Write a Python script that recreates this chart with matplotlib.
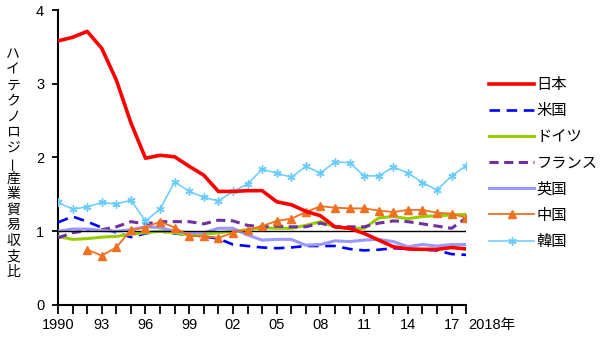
import numpy as np
import matplotlib
matplotlib.use("Agg")
import matplotlib.pyplot as plt

plt.rcParams['font.family'] = ['Liberation Sans', 'Noto Sans CJK JP', 'DejaVu Sans']

years = list(range(1990, 2019))

japan = [3.58, 3.63, 3.71, 3.48, 3.05, 2.47, 1.99, 2.03, 2.01, 1.88,
         1.76, 1.54, 1.54, 1.55, 1.55, 1.40, 1.36, 1.27, 1.21, 1.06,
         1.04, 0.97, 0.88, 0.79, 0.76, 0.755, 0.755, 0.78, 0.76]
usa = [1.12, 1.20, 1.13, 1.05, 0.98, 0.92, 0.97, 1.00, 0.97, 0.95,
       0.93, 0.90, 0.82, 0.80, 0.78, 0.77, 0.78, 0.80, 0.80, 0.80,
       0.76, 0.74, 0.75, 0.77, 0.76, 0.75, 0.74, 0.69, 0.68]
germany = [0.93, 0.89, 0.90, 0.92, 0.93, 0.96, 0.98, 1.00, 0.98, 0.95,
           0.96, 0.98, 1.00, 1.02, 1.05, 1.04, 1.04, 1.08, 1.13, 1.06,
           1.04, 1.04, 1.18, 1.20, 1.17, 1.20, 1.21, 1.22, 1.23]
france = [0.91, 0.98, 1.01, 1.02, 1.06, 1.13, 1.10, 1.13, 1.13, 1.13,
          1.10, 1.15, 1.14, 1.08, 1.06, 1.07, 1.06, 1.06, 1.11, 1.06,
          1.06, 1.06, 1.11, 1.14, 1.13, 1.10, 1.07, 1.04, 1.18]
uk = [1.00, 1.03, 1.03, 1.01, 1.00, 1.02, 1.06, 1.05, 1.00, 0.98,
      0.98, 1.04, 1.04, 0.95, 0.88, 0.89, 0.89, 0.81, 0.82, 0.87,
      0.86, 0.88, 0.89, 0.86, 0.79, 0.82, 0.80, 0.82, 0.82]
china_years = list(range(1992, 2019))
china = [0.75, 0.67, 0.78, 1.02, 1.05, 1.13, 1.05, 0.94,
         0.93, 0.91, 0.98, 1.02, 1.07, 1.14, 1.17, 1.26, 1.34, 1.32,
         1.31, 1.31, 1.28, 1.26, 1.29, 1.29, 1.25, 1.24, 1.18]
korea = [1.39, 1.30, 1.33, 1.39, 1.37, 1.42, 1.14, 1.30, 1.67, 1.54,
         1.46, 1.41, 1.54, 1.64, 1.84, 1.79, 1.73, 1.88, 1.79, 1.94,
         1.93, 1.75, 1.75, 1.87, 1.79, 1.66, 1.56, 1.75, 1.89]

tick_years = [1990, 1993, 1996, 1999, 2002, 2005, 2008, 2011, 2014, 2017]
tick_labels = ["1990", "93", "96", "99", "02", "05", "08", "11", "14", "17"]
ylabel = "ハイテクノロジー産業貿易収支比"

fig = plt.figure(figsize=(6.0, 3.39), dpi=100)
fig.patch.set_facecolor("white")
ax = fig.add_axes([0.0967, 0.1003, 0.6803, 0.8702])

ax.plot(years, usa, color="#0000ff", lw=1.9, ls=(0, (4, 2.5)), label="米国", zorder=3)
ax.plot(years, germany, color="#99cc00", lw=2.2, label="ドイツ", zorder=3)
ax.plot(years, france, color="#7030a0", lw=2.2, ls=(0, (3, 1.8)), label="フランス", zorder=3)
ax.plot(years, uk, color="#9999ff", lw=2.2, label="英国", zorder=3)
ax.axhline(1, color="black", lw=1.0, zorder=4)
ax.plot(china_years, china, color="#f07020", lw=1.3, marker="^", ms=5.5,
        mec="#f07020", mfc="#f07020", label="中国", zorder=5)
ax.plot(years, korea, color="#66ccff", lw=1.1, marker=(6, 2, 0), ms=6,
        mec="#66ccff", mew=1.0, label="韓国", zorder=5)
ax.plot(years, japan, color="#ff0000", lw=2.6, label="日本", zorder=6)

ax.set_xlim(1990, 2018)
ax.set_ylim(0, 4)
ax.set_xticks(years, minor=True)
ax.set_xticks(tick_years)
ax.set_xticklabels(tick_labels, fontsize=10.5)
ax.set_yticks([0, 1, 2, 3, 4])
ax.set_yticklabels(["0", "1", "2", "3", "4"], fontsize=10.5)
ax.tick_params(axis="x", which="both", direction="out", length=6.5, width=1.3, pad=3)
ax.tick_params(axis="y", direction="out", length=4, width=1.3, pad=6)
for s in ("top", "right"):
    ax.spines[s].set_visible(False)
for s in ("left", "bottom"):
    ax.spines[s].set_linewidth(1.5)

ax.text(1.004, -0.045, "2018年", transform=ax.transAxes, ha="left", va="top",
        fontsize=10.5, clip_on=False)

# vertical axis title, one glyph per row (long vowel mark turned upright)
n = len(ylabel)
y_top, y_bot = 1 - 54 / 339, 1 - 272 / 339
for i, ch in enumerate(ylabel):
    yy = y_top - (y_top - y_bot) * i / (n - 1)
    fig.text(0.022, yy, ch, ha="center", va="center", fontsize=10,
             rotation=90 if ch == "ー" else 0)

h, l = ax.get_legend_handles_labels()
order = ["日本", "米国", "ドイツ", "フランス", "英国", "中国", "韓国"]
hd = dict(zip(l, h))
ax.legend([hd[k] for k in order], order, loc="upper left",
          bbox_to_anchor=(1.04, 0.79), frameon=False, fontsize=11,
          handlelength=3.0, handletextpad=0.15, labelspacing=0.79,
          borderaxespad=0)

fig.savefig("out.png", dpi=100)
